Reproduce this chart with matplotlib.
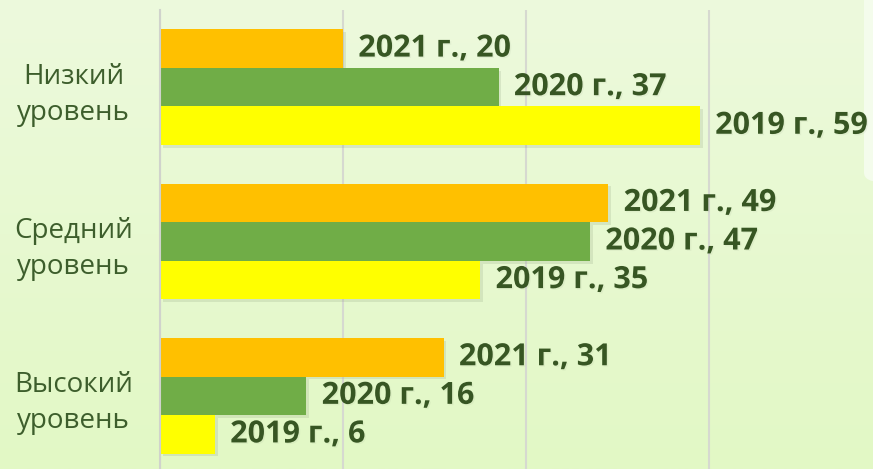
import numpy as np
import matplotlib
matplotlib.use("Agg")
import matplotlib.pyplot as plt
from matplotlib import patheffects as pe
from matplotlib.patches import FancyBboxPatch, Circle

categories = ["Низкий\nуровень", "Средний\nуровень", "Высокий\nуровень"]
years = ["2021 г.", "2020 г.", "2019 г."]
vals_2021 = [20, 49, 31]
vals_2020 = [37, 47, 16]
vals_2019 = [59, 35, 6]
series = [vals_2021, vals_2020, vals_2019]
colors = ["#FFC000", "#70AD47", "#FFFF00"]

W, H = 873, 469
fig = plt.figure(figsize=(W / 100, H / 100), dpi=100)

# background gradient
bg = fig.add_axes([0, 0, 1, 1], zorder=0)
top = np.array([237, 250, 221]) / 255
bot = np.array([226, 248, 197]) / 255
t = np.linspace(0, 1, 200)[:, None]
grad = (top[None, :] * (1 - t) + bot[None, :] * t)[:, None, :]
bg.imshow(grad, aspect="auto", extent=[0, 1, 0, 1], origin="upper")
bg.set_xlim(0, 1); bg.set_ylim(0, 1)
bg.axis("off")
# decorations: light panel top-right, green arc bottom-right
panel = FancyBboxPatch((864 / W, (H - 182) / H), 40 / W, 200 / H,
                       boxstyle="round,pad=0,rounding_size=0.02",
                       transform=bg.transAxes, facecolor="#F4FCEC", edgecolor="none")
bg.add_patch(panel)
bg.add_patch(Circle((1.05, -0.12), 0.085, transform=bg.transAxes,
                    facecolor="#C8F084", edgecolor="none"))

ax = fig.add_axes([160 / W, -4 / H, 732 / W, 463 / H], zorder=1)
ax.patch.set_alpha(0)
y = np.arange(len(categories))
h = 0.25
offsets = [-h, 0, h]
shadow = [pe.SimplePatchShadow(offset=(2, -2), shadow_rgbFace="#8a9a7a", alpha=0.2), pe.Normal()]
tshadow = [pe.SimplePatchShadow(offset=(1, -1), shadow_rgbFace="#a8b898", alpha=0.15), pe.Normal()]
for vals, col, yr, off in zip(series, colors, years, offsets):
    bars = ax.barh(y + off, vals, height=h, color=col, zorder=3)
    for b in bars:
        b.set_path_effects(shadow)
    for yi, v in zip(y, vals):
        txt = ax.annotate(f"{yr}, {v}", xy=(v, yi + off), xytext=(11, 0),
                          textcoords="offset points", va="center", ha="left",
                          fontsize=22, fontweight="bold", color="#375623",
                          family="Open Sans", zorder=4, annotation_clip=False)
        txt.set_path_effects(tshadow)

ax.set_xlim(0, 80)
ax.set_ylim(2.5, -0.5)
ax.set_xticks([0, 20, 40, 60, 80])
ax.set_xticklabels([])
ax.tick_params(axis="x", length=0)
ax.grid(axis="x", color="#D6D9D0", linewidth=1.5, zorder=0)
ax.set_yticks(y)
ax.set_yticklabels(categories, fontsize=20, color="#3D5E2C", family="Open Sans",
                   linespacing=1.38, ha="center")
ax.tick_params(axis="y", length=0, pad=62)
for s in ["top", "right", "bottom"]:
    ax.spines[s].set_visible(False)
ax.spines["left"].set_color("#D0D3CC")
ax.spines["left"].set_linewidth(1.5)
ax.spines["left"].set_zorder(5)

fig.savefig("out.png", dpi=100)
